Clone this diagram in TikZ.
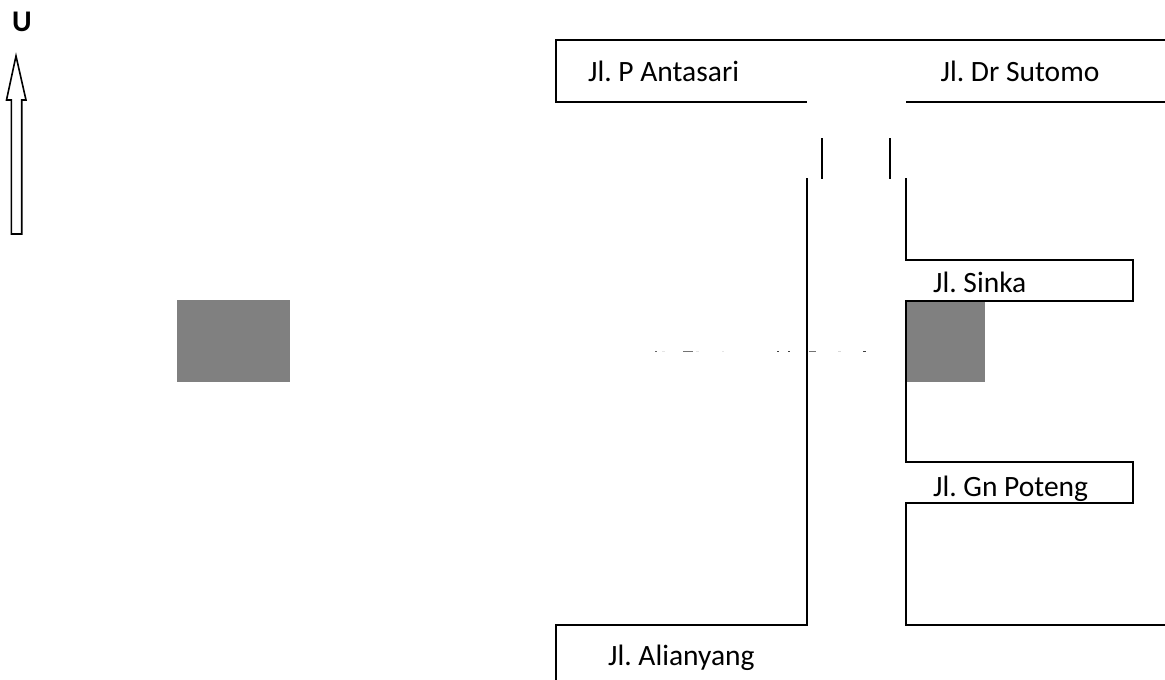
\documentclass[tikz,border=0pt]{standalone}
\usepackage{fontspec}
\setmainfont{Carlito}
\tikzset{
  road/.style={draw=black,line width=2pt,line cap=butt,line join=miter},
  lbl/.style={anchor=base west,inner sep=0pt,font=\fontsize{29.500}{34}\selectfont\frenchspacing,text=black},
  block/.style={fill=gray50,draw=none},
  tick/.style={line width=1pt},
}
\definecolor{gray50}{HTML}{808080}
\begin{document}
\begin{tikzpicture}[x=1pt,y=-1pt]
\useasboundingbox (0,0) rectangle (1165,680);
% grey blocks
\fill[block] (177,300) rectangle (290,382);
\fill[block] (907,301) rectangle (985,382);
% roads
\draw[road] (1165,40) -- (556,40) -- (556,102) -- (807,102);
\draw[road] (906,102) -- (1165,102);
\draw[road] (822,138) -- (822,179);
\draw[road] (890,138) -- (890,179);
\draw[road] (807,178) -- (807,625) -- (556,625) -- (556,680);
\draw[road] (906,178) -- (906,260) -- (1133,260) -- (1133,301) -- (906,301) -- (906,462) -- (1133,462) -- (1133,502.500) -- (906,502.500) -- (906,625) -- (1165,625);
% north arrow
\draw[line width=1.600pt,line join=miter] (16,56) -- (26,100) -- (21.700,100) -- (21.700,234) -- (11.300,234) -- (11.300,100) -- (6.500,100) -- cycle;
\node[lbl,font=\fontsize{30}{34}\selectfont\bfseries] (u) at (12,31) {U};
% labels
\node[lbl] (antasari) at (588,81) {Jl. P Antasari};
\node[lbl] (sutomo) at (940.500,81) {Jl. Dr Sutomo};
\node[lbl] (sinka) at (933,292) {Jl. Sinka};
\node[lbl] (poteng) at (933,496) {Jl. Gn Poteng};
\node[lbl] (alianyang) at (608,665) {Jl. Alianyang};
% remnants of a label cut off in the source
\foreach \a/\b/\c in {655/657/60,662/665/10,683/693/55,696/699/10,722/724/10,777/779/75,788/790/75,809/816/55,838/841/15,863/866/75}
  \draw[tick,black!\c] (\a,351.500) -- (\b,351.500);
\end{tikzpicture}
\end{document}
